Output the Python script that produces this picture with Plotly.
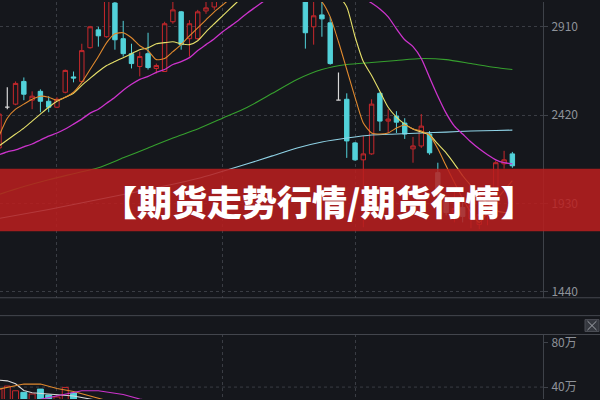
import plotly.graph_objects as go

# ---------------- data ----------------
opens = [2238, 2464, 2481, 2607, 2503, 2552, 2497, 2464, 2547, 2632,
         2607, 2794, 2893, 2855, 3042, 2844, 2761, 2690, 2761, 2679,
         2662, 2938, 2993, 2844, 2844, 2998, 3020, 3070, 3140, 3210,
         3170, 3280, 3340, 3260, 3200, 3230, 3140, 3092, 2910, 2976,
         2932, 2503, 2508, 2266, 2172, 2205, 2541, 2387, 2414, 2376,
         2233, 2249, 2315, 2101, 1946, 1880, 1908, 1847, 1814, 1864,
         2002, 2150, 2205]
highs = [2453, 2574, 2607, 2629, 2552, 2563, 2525, 2519, 2673, 2662,
         2816, 2915, 2910, 3075, 3064, 2943, 2816, 2772, 2877, 2706,
         2938, 3048, 2998, 2947, 3004, 3048, 3092, 3150, 3230, 3260,
         3300, 3360, 3380, 3290, 3250, 3260, 3170, 3114, 3059, 3059,
         2965, 2657, 2541, 2271, 2304, 2508, 2547, 2453, 2442, 2403,
         2299, 2426, 2332, 2156, 1974, 2002, 1946, 1974, 1908, 2029,
         2167, 2222, 2216]
lows = [2222, 2453, 2475, 2503, 2453, 2436, 2436, 2459, 2541, 2602,
        2602, 2789, 2800, 2849, 2783, 2745, 2679, 2635, 2673, 2651,
        2662, 2927, 2783, 2745, 2838, 2982, 3004, 3065, 3120, 3150,
        3160, 3250, 3240, 3180, 3150, 3120, 3080, 2789, 2811, 2855,
        2700, 2503, 2183, 2167, 1798, 2200, 2332, 2321, 2321, 2288,
        2156, 2238, 2200, 1958, 1864, 1825, 1825, 1792, 1787, 1809,
        1864, 2123, 2128]
closes = [2426, 2464, 2596, 2536, 2525, 2497, 2464, 2508, 2668, 2626,
          2778, 2910, 2860, 3059, 2838, 2761, 2706, 2745, 2684, 2695,
          2927, 3004, 2811, 2927, 2993, 3015, 3064, 3140, 3210, 3170,
          3280, 3340, 3260, 3200, 3230, 3140, 3100, 2877, 2971, 2954,
          2706, 2503, 2277, 2172, 2205, 2481, 2387, 2398, 2381, 2315,
          2249, 2359, 2211, 1974, 1880, 1902, 1858, 1919, 1869, 1974,
          2156, 2172, 2139]

ma5 = [2304, 2403, 2453, 2481, 2508, 2525, 2519, 2503, 2519, 2547,
       2602, 2673, 2745, 2822, 2871, 2877, 2849, 2805, 2778, 2728,
       2734, 2772, 2811, 2860, 2904, 2949, 2993, 3031, 3070, 3130,
       3213, 3268, 3295, 3295, 3268, 3240, 3185, 3130, 3086, 3048,
       2965, 2827, 2673, 2519, 2376, 2321, 2315, 2321, 2348, 2365,
       2343, 2332, 2310, 2233, 2139, 2046, 1957, 1880, 1825, 1880,
       1946, 2002, 2057]
ma10 = [2249, 2282, 2315, 2348, 2387, 2426, 2464, 2497, 2519, 2541,
        2585, 2624, 2662, 2695, 2717, 2739, 2761, 2783, 2794, 2816,
        2822, 2827, 2816, 2811, 2833, 2882, 2927, 2971, 3015, 3059,
        3130, 3185, 3224, 3251, 3268, 3268, 3257, 3229, 3196, 3158,
        3119, 3081, 3020, 2855, 2717, 2640, 2552, 2464, 2409, 2370,
        2343, 2326, 2310, 2260, 2211, 2150, 2084, 2029, 1974, 1930,
        1891, 1880, 1880]
ma20 = [2200, 2216, 2227, 2244, 2260, 2282, 2304, 2321, 2343, 2370,
        2398, 2431, 2453, 2486, 2519, 2558, 2591, 2618, 2635, 2657,
        2673, 2701, 2717, 2739, 2778, 2811, 2844, 2882, 2915, 2949,
        2987, 3020, 3053, 3086, 3119, 3147, 3169, 3185, 3191, 3191,
        3180, 3163, 3136, 3103, 3070, 3042, 3009, 2965, 2899, 2838,
        2800, 2734, 2629, 2525, 2431, 2359, 2315, 2271, 2233, 2200,
        2172, 2156, 2150]
ma60_x = [0, 3, 6, 9, 12, 15, 18, 21, 24, 27, 30, 33, 36, 39, 42, 45, 48, 51, 54, 57, 60, 62]
ma60 = [1980, 2024, 2062, 2095, 2128, 2183, 2238, 2293, 2343, 2403, 2464,
        2541, 2618, 2673, 2701, 2712, 2723, 2734, 2728, 2706, 2684, 2673]
ma120_x = [0, 6, 12, 18, 24, 30, 33, 36, 39, 42, 45, 48, 51, 54, 57, 60, 62]
ma120 = [1847, 1897, 1952, 2007, 2068, 2150, 2194, 2238, 2271, 2293,
         2310, 2315, 2321, 2326, 2332, 2335, 2337]

volume = [382000, 409000, 367000, 353000, 338000, 382000, 329000, 311000, 397000, 347000]
vol_ma5_x = [0, 1, 2, 3, 4, 6, 9, 11, 12]
vol_ma5 = [462000, 456000, 430000, 370000, 350000, 338000, 320000, 293000, 280000]
vol_ma10_x = [0, 3, 5, 7, 9, 12, 13]
vol_ma10 = [382000, 427000, 427000, 388000, 360000, 295000, 280000]
vol_ma20_x = [5, 8, 10, 12, 15, 17, 18]
vol_ma20 = [290000, 335000, 367000, 367000, 333000, 293000, 280000]

price_ticks = [1440, 1930, 2420, 2910]
vol_ticks = [400000, 800000]
vol_tick_labels = ["40万", "80万"]
grid_x = [7, 27, 43]
banner_text = "【期货走势行情/期货行情】"

# ---------------- style ----------------
BG = "#15171c"
GRID = "#3a3d44"
AXIS = "#3e4249"
TICK = "#8e9299"
RED = "#c8282c"
CYAN = "#52d2da"
FLAT = "#d8d8d8"
FONT = "Noto Sans CJK SC"

n = len(opens)
xs = list(range(n))
flat_idx = [i for i in xs if opens[i] == closes[i]]
move_idx = [i for i in xs if opens[i] != closes[i]]

def pick(arr, idx):
    return [arr[i] for i in idx]

fig = go.Figure()

fig.add_trace(go.Candlestick(
    x=move_idx, open=pick(opens, move_idx), high=pick(highs, move_idx),
    low=pick(lows, move_idx), close=pick(closes, move_idx),
    increasing=dict(line=dict(color=RED, width=1), fillcolor=BG),
    decreasing=dict(line=dict(color=CYAN, width=1), fillcolor=CYAN),
    whiskerwidth=0, xaxis="x", yaxis="y", showlegend=False, hoverinfo="skip"))
fig.add_trace(go.Candlestick(
    x=flat_idx, open=pick(opens, flat_idx), high=pick(highs, flat_idx),
    low=pick(lows, flat_idx), close=pick(closes, flat_idx),
    increasing=dict(line=dict(color=FLAT, width=1.2), fillcolor=FLAT),
    decreasing=dict(line=dict(color=FLAT, width=1.2), fillcolor=FLAT),
    whiskerwidth=0, xaxis="x", yaxis="y", showlegend=False, hoverinfo="skip"))

line_specs = [
    (ma120_x, ma120, "#8fd3e6", 1.1),
    (ma60_x, ma60, "#36a02e", 1.1),
    (xs, ma20, "#cc33cc", 1.3),
    (xs, ma10, "#e6e06a", 1.1),
    (xs, ma5, "#e0892e", 1.1),
]
for lx, ly, col, w in line_specs:
    fig.add_trace(go.Scatter(x=lx, y=ly, mode="lines", line=dict(color=col, width=w, shape="spline", smoothing=0.6),
                             xaxis="x", yaxis="y", showlegend=False, hoverinfo="skip"))

vol_x = list(range(len(volume)))
vol_fill = [CYAN if closes[i] < opens[i] else BG for i in vol_x]
vol_line = [CYAN if closes[i] < opens[i] else RED for i in vol_x]
fig.add_trace(go.Bar(x=vol_x, y=volume, width=0.72,
                     marker=dict(color=vol_fill, line=dict(color=vol_line, width=1)),
                     xaxis="x2", yaxis="y2", showlegend=False, hoverinfo="skip"))
for lx, ly, col in [(vol_ma5_x, vol_ma5, "#d8d8d8"), (vol_ma10_x, vol_ma10, "#e0892e"),
                    (vol_ma20_x, vol_ma20, "#cc33cc")]:
    fig.add_trace(go.Scatter(x=lx, y=ly, mode="lines", line=dict(color=col, width=1.1),
                             xaxis="x2", yaxis="y2", showlegend=False, hoverinfo="skip"))

W, H = 600, 400
PLOT_R = 543
def px_x(p):
    return p / PLOT_R
def px_y(p):
    return 1 - p / H

shapes = []
# dotted grid at 40万
shapes.append(dict(type="line", xref="paper", yref="y2", x0=0, x1=1, y0=vol_ticks[0], y1=vol_ticks[0],
                   line=dict(color=GRID, width=1, dash="dot"), layer="below"))
# separators
for yy in (298, 316, 335):
    shapes.append(dict(type="line", xref="paper", yref="paper", x0=0, x1=px_x(W), y0=px_y(yy), y1=px_y(yy),
                       line=dict(color="#44474e", width=1)))
# close box
shapes.append(dict(type="rect", xref="paper", yref="paper", x0=px_x(585), x1=px_x(599),
                   y0=px_y(332), y1=px_y(320), fillcolor="#35383f", line=dict(color="#4a4d54", width=1)))
shapes.append(dict(type="line", xref="paper", yref="paper", x0=px_x(587.5), x1=px_x(596.5),
                   y0=px_y(321.5), y1=px_y(330.5), line=dict(color="#a0a3aa", width=1)))
shapes.append(dict(type="line", xref="paper", yref="paper", x0=px_x(587.5), x1=px_x(596.5),
                   y0=px_y(330.5), y1=px_y(321.5), line=dict(color="#a0a3aa", width=1)))
# red banner
shapes.append(dict(type="rect", xref="paper", yref="paper", x0=px_x(-2), x1=px_x(W + 2),
                   y0=px_y(231), y1=px_y(168), fillcolor="rgba(186,30,30,0.86)",
                   line=dict(width=0), layer="above"))

fig.update_layout(
    width=W, height=H,
    margin=dict(l=0, r=W - PLOT_R, t=0, b=0),
    paper_bgcolor=BG, plot_bgcolor=BG,
    boxgap=0.24,
    showlegend=False,
    hovermode=False,
    shapes=shapes,
    xaxis=dict(domain=[0, 1], range=[0.12, 65.7], anchor="y", tickvals=grid_x, showticklabels=False,
               ticks="", showgrid=True, gridcolor=GRID, griddash="dot", gridwidth=1,
               zeroline=False, showline=False, rangeslider=dict(visible=False), fixedrange=True),
    xaxis2=dict(domain=[0, 1], range=[0.12, 65.7], anchor="y2", matches="x", tickvals=grid_x,
                showticklabels=False, ticks="", showgrid=True, gridcolor=GRID, griddash="dot",
                zeroline=False, showline=False, rangeslider=dict(visible=False)),
    yaxis=dict(domain=[px_y(298), 1], range=[1406.9, 3047.6], anchor="x", side="right",
               tickvals=price_ticks, ticks="outside", ticklen=4, tickcolor=AXIS,
               showgrid=True, gridcolor=GRID, griddash="dot", zeroline=False,
               showline=True, linecolor=AXIS, linewidth=1,
               tickfont=dict(family=FONT, size=12, color=TICK), ticklabelstandoff=1),
    yaxis2=dict(domain=[0, px_y(335)], range=[293333, 871111], anchor="x2", side="right",
                tickvals=vol_ticks, ticktext=vol_tick_labels, ticks="outside", ticklen=4, tickcolor=AXIS,
                showgrid=False, zeroline=False, showline=True, linecolor=AXIS, linewidth=1,
                tickfont=dict(family=FONT, size=12, color=TICK), ticklabelstandoff=1),
    annotations=[dict(text=banner_text, xref="paper", yref="paper", x=px_x(318), y=px_y(200),
                      xanchor="center", yanchor="middle", showarrow=False,
                      font=dict(family=FONT, size=35, color="#ffffff", weight=900))],
)

fig.write_html("out.html", config={"displayModeBar": False, "staticPlot": True},
               post_script="document.body.style.margin='0';document.body.style.background='" + BG + "';")
